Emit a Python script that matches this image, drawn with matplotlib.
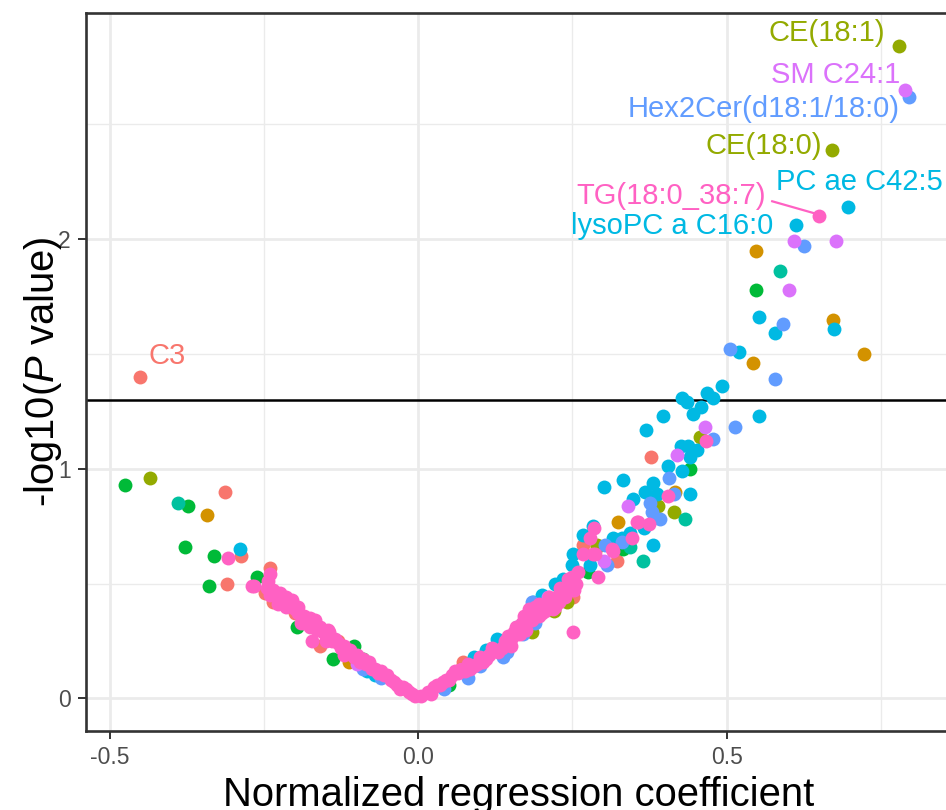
import matplotlib
matplotlib.use("Agg")
import matplotlib.pyplot as plt

plt.rcParams["font.family"] = ["Liberation Sans", "DejaVu Sans"]
plt.rcParams["mathtext.fontset"] = "custom"
plt.rcParams["mathtext.rm"] = "Liberation Sans"
plt.rcParams["mathtext.it"] = "Liberation Sans:italic"

# ggplot hue palette, 9 lipid classes
class_colors = ["#F8766D", "#D39200", "#93AA00", "#00BA38", "#00C19F",
                "#00B9E3", "#619CFF", "#DB72FB", "#FF61C3"]

# points per class (normalized coefficient, -log10 P)
salmon_x = [-0.452, -0.313, -0.287, -0.310, -0.240, -0.248, -0.235, -0.200, -0.183,
            -0.159, -0.130, 0.073, 0.120, 0.230, 0.251, 0.267, 0.322, 0.378]
salmon_y = [1.40, 0.90, 0.62, 0.50, 0.57, 0.46, 0.42, 0.37, 0.35,
            0.23, 0.25, 0.16, 0.22, 0.47, 0.44, 0.67, 0.60, 1.05]

orange_x = [-0.342, -0.113, 0.070, 0.290, 0.324, 0.417, 0.543, 0.548, 0.673, 0.723]
orange_y = [0.80, 0.16, 0.13, 0.66, 0.77, 0.90, 1.46, 1.95, 1.65, 1.50]

olive_x = [-0.436, 0.100, 0.185, 0.220, 0.241, 0.290, 0.389, 0.415, 0.457, 0.671, 0.780]
olive_y = [0.96, 0.17, 0.29, 0.38, 0.42, 0.67, 0.84, 0.81, 1.14, 2.39, 2.84]

green_x = [-0.476, -0.373, -0.378, -0.332, -0.340, -0.261, -0.196, -0.138, -0.105,
           -0.090, -0.060, 0.050, 0.276, 0.332, 0.441, 0.548]
green_y = [0.93, 0.84, 0.66, 0.62, 0.49, 0.53, 0.31, 0.17, 0.23,
           0.17, 0.10, 0.06, 0.55, 0.65, 1.00, 1.78]

teal_x = [-0.389, 0.344, 0.365, 0.433, 0.587]
teal_y = [0.85, 0.66, 0.60, 0.78, 1.86]

cyan_x = [-0.290, -0.083, -0.070, 0.090, 0.110, 0.128, 0.160, 0.186, 0.200, 0.222,
          0.235, 0.250, 0.251, 0.267, 0.279, 0.284, 0.301, 0.316, 0.331, 0.332,
          0.344, 0.348, 0.366, 0.368, 0.370, 0.381, 0.381, 0.387, 0.397, 0.405,
          0.426, 0.428, 0.428, 0.436, 0.438, 0.441, 0.441, 0.446, 0.452, 0.459,
          0.468, 0.478, 0.493, 0.520, 0.553, 0.553, 0.579, 0.613, 0.674, 0.697]
cyan_y = [0.65, 0.12, 0.10, 0.18, 0.21, 0.26, 0.31, 0.42, 0.45, 0.50,
          0.52, 0.58, 0.63, 0.71, 0.58, 0.75, 0.92, 0.70, 0.70, 0.95,
          0.72, 0.87, 0.74, 0.90, 1.17, 0.94, 0.67, 0.89, 1.23, 1.01,
          1.10, 0.99, 1.31, 1.29, 1.10, 1.05, 0.89, 1.24, 1.08, 1.27,
          1.33, 1.31, 1.36, 1.51, 1.23, 1.66, 1.59, 2.06, 1.61, 2.14]

blue_x = [-0.090, -0.060, 0.041, 0.080, 0.100, 0.138, 0.144, 0.170, 0.185, 0.190,
          0.303, 0.306, 0.331, 0.376, 0.379, 0.392, 0.407, 0.415, 0.478, 0.506,
          0.514, 0.579, 0.592, 0.626, 0.796]
blue_y = [0.13, 0.09, 0.04, 0.09, 0.14, 0.18, 0.20, 0.28, 0.42, 0.33,
          0.67, 0.58, 0.68, 0.85, 0.81, 0.78, 0.96, 0.89, 1.13, 1.52,
          1.18, 1.39, 1.63, 1.97, 2.62]

violet_x = [-0.100, 0.211, 0.301, 0.340, 0.420, 0.465, 0.601, 0.609, 0.677, 0.789]
violet_y = [0.15, 0.44, 0.60, 0.84, 1.06, 1.18, 1.78, 1.99, 1.99, 2.65]

pink_x = [-0.308, -0.269, -0.267, -0.245, -0.243, -0.241, -0.240, -0.235, -0.230, -0.228,
          -0.225, -0.220, -0.215, -0.214, -0.210, -0.205, -0.200, -0.195, -0.195, -0.190,
          -0.185, -0.185, -0.180, -0.176, -0.175, -0.172, -0.170, -0.167, -0.165, -0.160,
          -0.155, -0.150, -0.150, -0.147, -0.145, -0.140, -0.135, -0.130, -0.125, -0.120,
          -0.120, -0.115, -0.110, -0.105, -0.100, -0.095, -0.090, -0.085, -0.080, -0.075,
          -0.070, -0.065, -0.060, -0.055, -0.050, -0.045, -0.040, -0.035, -0.030, -0.025,
          -0.020, -0.015, -0.010, -0.005,
          0.005, 0.015, 0.020, 0.025, 0.030, 0.035, 0.040, 0.045, 0.050, 0.055,
          0.060, 0.065, 0.070, 0.075, 0.080, 0.084, 0.085, 0.090, 0.095, 0.100,
          0.105, 0.105, 0.110, 0.115, 0.120, 0.125, 0.130, 0.135, 0.140, 0.145,
          0.145, 0.150, 0.150, 0.155, 0.158, 0.160, 0.165, 0.165, 0.168, 0.170,
          0.172, 0.175, 0.175, 0.180, 0.180, 0.185, 0.185, 0.190, 0.190, 0.195,
          0.195, 0.200, 0.200, 0.205, 0.208, 0.210, 0.212, 0.215, 0.218, 0.220,
          0.222, 0.225, 0.228, 0.230, 0.230, 0.235, 0.238, 0.240, 0.243, 0.245,
          0.248, 0.250, 0.251, 0.252, 0.255, 0.259, 0.267, 0.279, 0.284, 0.285,
          0.287, 0.292, 0.314, 0.316, 0.347, 0.355, 0.357, 0.374, 0.405, 0.467,
          0.650]
pink_y = [0.61, 0.49, 0.49, 0.48, 0.51, 0.54, 0.45, 0.47, 0.44, 0.41,
          0.46, 0.42, 0.40, 0.44, 0.41, 0.43, 0.39, 0.37, 0.40, 0.33,
          0.36, 0.33, 0.34, 0.31, 0.35, 0.25, 0.32, 0.34, 0.30, 0.31,
          0.29, 0.27, 0.25, 0.30, 0.29, 0.25, 0.26, 0.24, 0.22, 0.19,
          0.23, 0.20, 0.21, 0.18, 0.19, 0.16, 0.17, 0.15, 0.16, 0.13,
          0.13, 0.11, 0.12, 0.10, 0.10, 0.08, 0.07, 0.06, 0.04, 0.05,
          0.04, 0.03, 0.02, 0.01,
          0.01, 0.03, 0.02, 0.05, 0.06, 0.06, 0.07, 0.08, 0.08, 0.10,
          0.12, 0.11, 0.13, 0.12, 0.15, 0.13, 0.14, 0.14, 0.15, 0.18,
          0.17, 0.16, 0.17, 0.19, 0.22, 0.21, 0.20, 0.22, 0.25, 0.24,
          0.27, 0.26, 0.23, 0.29, 0.31, 0.28, 0.30, 0.28, 0.33, 0.32,
          0.36, 0.34, 0.30, 0.36, 0.39, 0.37, 0.34, 0.38, 0.40, 0.41,
          0.36, 0.39, 0.37, 0.38, 0.41, 0.40, 0.44, 0.42, 0.39, 0.43,
          0.40, 0.44, 0.42, 0.45, 0.48, 0.46, 0.44, 0.47, 0.52, 0.49,
          0.51, 0.53, 0.29, 0.47, 0.50, 0.55, 0.63, 0.70, 0.63, 0.74,
          0.63, 0.53, 0.65, 0.64, 0.70, 0.77, 0.77, 0.76, 0.88, 1.12,
          2.10]

class_x = [salmon_x, orange_x, olive_x, green_x, teal_x, cyan_x, blue_x, violet_x, pink_x]
class_y = [salmon_y, orange_y, olive_y, green_y, teal_y, cyan_y, blue_y, violet_y, pink_y]

# labelled lipids: text, class index, text anchor (x, y), alignment
label_text = ["CE(18:1)", "SM C24:1", "Hex2Cer(d18:1/18:0)", "CE(18:0)",
              "PC ae C42:5", "TG(18:0_38:7)", "lysoPC a C16:0", "C3"]
label_class = [2, 7, 6, 2, 5, 8, 5, 0]
label_x = [0.757, 0.781, 0.781, 0.655, 0.580, 0.564, 0.575, -0.438]
label_y = [2.896, 2.717, 2.565, 2.404, 2.248, 2.190, 2.057, 1.49]
label_ha = ["right", "right", "right", "right", "left", "right", "right", "left"]

p_cut = 0.05

fig = plt.figure(figsize=(9.46, 8.10), dpi=100)
ax = fig.add_axes([86 / 946, 1 - 731 / 810, 865 / 946, 718 / 810])

for xs, ys, col in zip(class_x, class_y, class_colors):
    ax.scatter(xs, ys, s=100, color=col, linewidths=0, zorder=3)

ax.axhline(1.30103, color="black", lw=1.8, zorder=2)

# TG label segment
ax.plot([0.574, 0.642], [2.165, 2.113], color=class_colors[8], lw=1.6, zorder=4)

for t, c, lx, ly, ha in zip(label_text, label_class, label_x, label_y, label_ha):
    ax.text(lx, ly, t, color=class_colors[c], fontsize=21, ha=ha, va="center",
            zorder=5)

ax.set_xlim(-0.539, 0.864)
ax.set_ylim(-0.142, 2.985)
ax.set_xticks([-0.5, 0.0, 0.5])
ax.set_xticklabels(["-0.5", "0.0", "0.5"])
ax.set_yticks([0, 1, 2])
ax.set_xticks([-0.25, 0.25, 0.75], minor=True)
ax.set_yticks([0.5, 1.5, 2.5], minor=True)

ax.grid(which="major", color="#EBEBEB", lw=2.0, zorder=0)
ax.grid(which="minor", color="#EBEBEB", lw=1.0, zorder=0)
ax.set_axisbelow(True)

ax.tick_params(which="major", length=6, width=1.4, color="#333333",
               labelsize=16.5, labelcolor="#4D4D4D", pad=5)
ax.tick_params(which="minor", length=0)
for sp in ax.spines.values():
    sp.set_color("#333333")
    sp.set_linewidth(1.9)

ax.set_xlabel("Normalized regression coefficient", fontsize=28.8, labelpad=5)
ax.set_ylabel(r"-log10($\mathit{P}$ value)", fontsize=28.8)
ax.yaxis.set_label_coords(-0.025, 0.5)

fig.savefig("out.png", dpi=100)
